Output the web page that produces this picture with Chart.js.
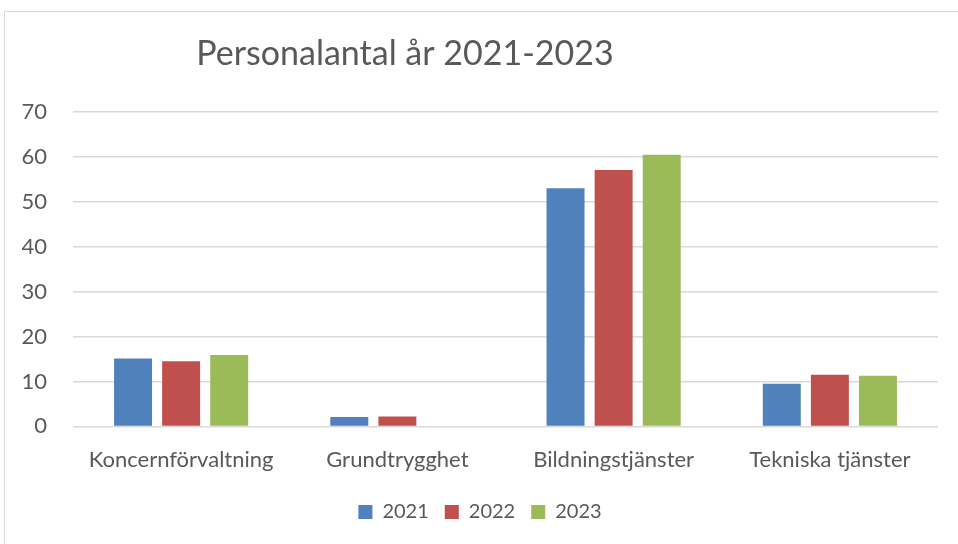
<!DOCTYPE html>
<html>
<head>
<meta charset="utf-8">
<script src="https://cdn.jsdelivr.net/npm/chart.js@4/dist/chart.umd.min.js"></script>
<style>
  html, body { margin: 0; padding: 0; background: #fff; overflow: hidden; width: 958px; height: 544px; }
  #wrap { position: absolute; left: 4px; top: 11px; width: 980px; height: 540px; border: 1px solid #d9d9d9; border-right: none; border-bottom: none; box-sizing: border-box; }
  #c { position: absolute; left: 0; top: 0; }
</style>
</head>
<body>
<div id="wrap"><canvas id="c" width="975" height="532"></canvas></div>
<script>
const categories = ["Koncernförvaltning", "Grundtrygghet", "Bildningstjänster", "Tekniska tjänster"];
const seriesNames = ["2021", "2022", "2023"];
const values2021 = [15.1, 2.1, 53.0, 9.5];
const values2022 = [14.5, 2.2, 57.1, 11.5];
const values2023 = [15.9, null, 60.5, 11.3];
const colors = ["#4f81bd", "#c0504d", "#9bbb59"];
const titleText = "Personalantal år 2021-2023";

const FONT = "Lato, 'Open Sans', sans-serif";

const titlePlugin = {
  id: 'customTitle',
  afterDraw(chart) {
    const ctx = chart.ctx;
    ctx.save();
    ctx.font = "34px " + FONT;
    ctx.fillStyle = "#595959";
    ctx.textAlign = "center";
    ctx.textBaseline = "middle";
    ctx.fillText(titleText, 400, 42);
    ctx.restore();
  }
};

new Chart(document.getElementById('c'), {
  type: 'bar',
  data: {
    labels: categories,
    datasets: [
      { label: seriesNames[0], data: values2021, backgroundColor: colors[0] },
      { label: seriesNames[1], data: values2022, backgroundColor: colors[1] },
      { label: seriesNames[2], data: values2023, backgroundColor: colors[2] }
    ]
  },
  options: {
    responsive: false,
    animation: false,
    devicePixelRatio: 1,
    layout: { padding: { top: 100, left: 17, right: 42, bottom: 12 } },
    datasets: { bar: { categoryPercentage: 0.667, barPercentage: 0.79 } },
    plugins: {
      legend: {
        position: 'bottom',
        title: { display: true, text: ' ', font: { size: 1 }, padding: { top: 0, bottom: 0 } },
        labels: { font: { family: FONT, size: 20 }, color: '#595959', boxWidth: 14, boxHeight: 14, padding: 16 }
      },
      tooltip: { enabled: false },
      title: { display: false }
    },
    scales: {
      x: {
        grid: { display: false },
        border: { display: false },
        ticks: { font: { family: FONT, size: 22 }, color: '#595959', padding: 12 }
      },
      y: {
        min: 0, max: 70,
        afterFit(scale) { scale.width = 51; },
        ticks: { stepSize: 10, font: { family: FONT, size: 22 }, color: '#595959', padding: 26 },
        grid: { color: '#d9d9d9', lineWidth: 1.5, drawTicks: false },
        border: { display: false }
      }
    }
  },
  plugins: [titlePlugin]
});
</script>
</body>
</html>
